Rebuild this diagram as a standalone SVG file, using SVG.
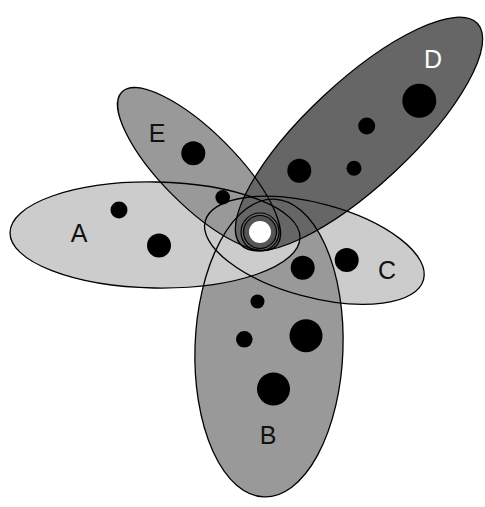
<svg xmlns="http://www.w3.org/2000/svg" xmlns:xlink="http://www.w3.org/1999/xlink" width="485" height="507" viewBox="0 0 485 507">
<style>
.o{fill:none;stroke:#000;stroke-width:1.3}
.lt{fill:#cccccc}.md{fill:#999999}.dk{fill:#666666}
.dot{fill:#000}
.lbl{font-family:"Liberation Sans",Arial,sans-serif;font-size:25px;text-anchor:middle;fill:#111}
</style>
<defs>
<ellipse id="eA" cx="155" cy="235" rx="145" ry="53" transform="rotate(1 155 235)"/>
<ellipse id="eB" cx="269" cy="348" rx="74" ry="149" transform="rotate(2 269 348)"/>
<ellipse id="eC" cx="314.4" cy="250.3" rx="113" ry="47" transform="rotate(15 314.4 250.3)"/>
<ellipse id="eD" cx="359" cy="134" rx="162" ry="52" transform="rotate(-43 359 134)"/>
<ellipse id="eE" cx="199" cy="169" rx="109" ry="37" transform="rotate(45 199 169)"/>
</defs>
<rect width="485" height="507" fill="#fff"/>
<g id="fills">
<use xlink:href="#eC" class="lt"/>
<use xlink:href="#eB" class="md"/>
<use xlink:href="#eA" class="lt"/>
<use xlink:href="#eE" class="md"/>
<use xlink:href="#eD" class="dk"/>
</g>
<g id="outlines">
<use xlink:href="#eA" class="o"/>
<use xlink:href="#eB" class="o"/>
<use xlink:href="#eC" class="o"/>
<use xlink:href="#eD" class="o"/>
<use xlink:href="#eE" class="o"/>
</g>
<g id="hub">
<circle cx="260" cy="232" r="19" fill="none" stroke="#000" stroke-width="1.2"/>
<circle cx="260" cy="232" r="16.5" fill="#555" stroke="#000" stroke-width="1.2"/>
<circle cx="260" cy="232" r="11" fill="#fff"/>
</g>
<g id="set-A">
<circle class="dot" cx="119" cy="210" r="8.5"/>
<circle class="dot" cx="159" cy="245.5" r="12"/>
<text class="lbl" x="79" y="242">A</text>
</g>
<g id="set-B">
<circle class="dot" cx="257.5" cy="301.5" r="7"/>
<circle class="dot" cx="244.3" cy="339.3" r="8.3"/>
<circle class="dot" cx="306" cy="335.7" r="16.5"/>
<circle class="dot" cx="273.5" cy="389" r="16.5"/>
<text class="lbl" x="268" y="444">B</text>
</g>
<g id="set-C">
<circle class="dot" cx="302.7" cy="267.7" r="12"/>
<circle class="dot" cx="346.7" cy="260" r="12"/>
<text class="lbl" x="387" y="279">C</text>
</g>
<g id="set-D">
<circle class="dot" cx="419.3" cy="100.7" r="17"/>
<circle class="dot" cx="366.7" cy="126" r="8.5"/>
<circle class="dot" cx="299.3" cy="170.7" r="12"/>
<circle class="dot" cx="354" cy="168.3" r="7.5"/>
<text class="lbl" x="433" y="68" style="fill:#fff">D</text>
</g>
<g id="set-E">
<circle class="dot" cx="193.3" cy="153.3" r="12"/>
<circle class="dot" cx="222.7" cy="197.3" r="7.3"/>
<text class="lbl" x="157" y="141.5">E</text>
</g>
</svg>
